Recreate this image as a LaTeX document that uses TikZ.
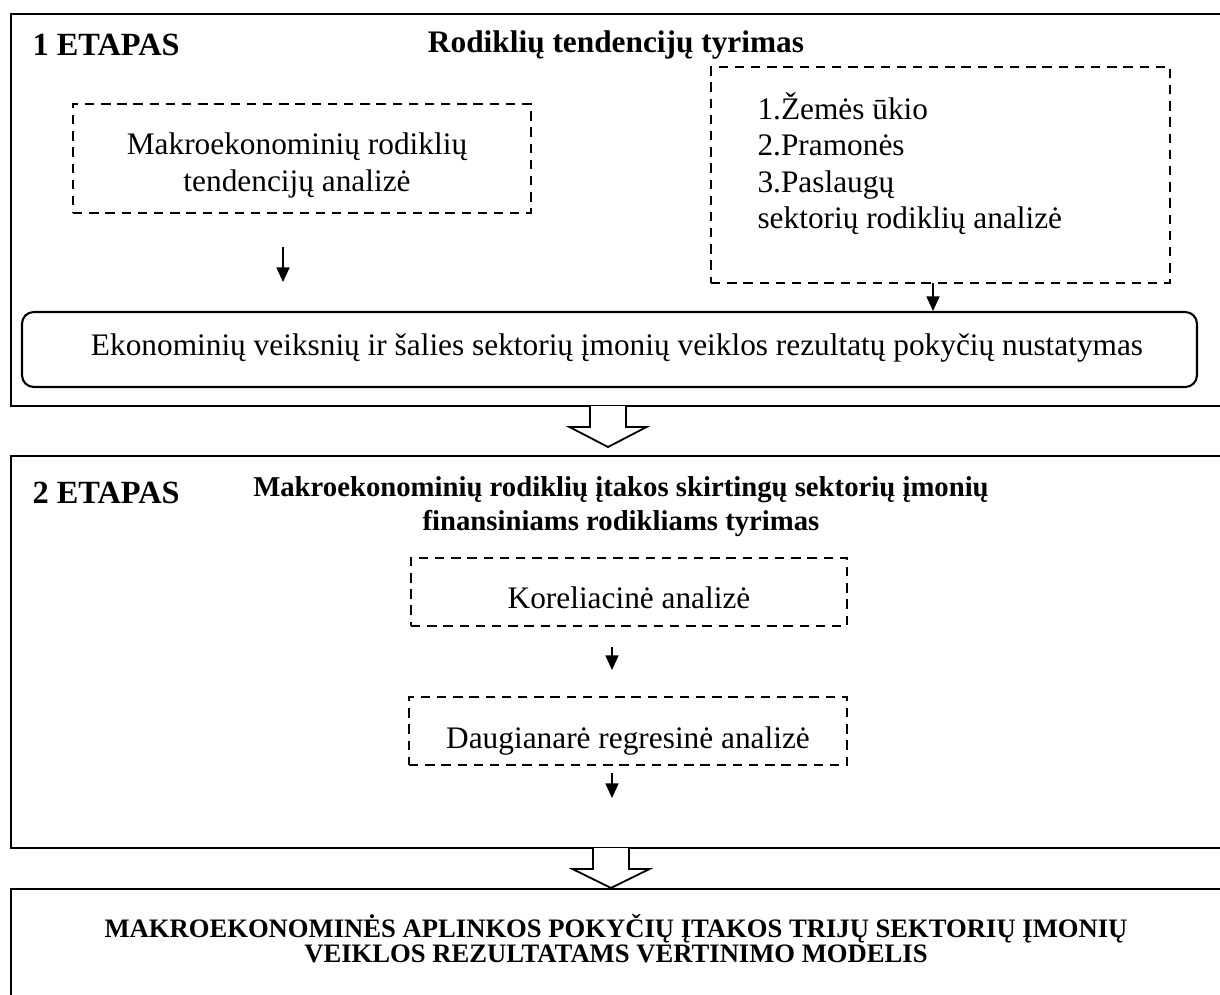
\documentclass[tikz,border=0pt]{standalone}
\usepackage{fontspec}
\setmainfont{Liberation Serif}
\usetikzlibrary{arrows.meta,fit,calc}

% outlined block arrow from a point on a frame's lower edge down to a tip
\newcommand\stagearrow[2]{%
  \draw[bigarrow] ($(#1)+(-18,0)$) -- ($(#1)+(-18,21)$) -- ($(#1)+(-38.5,21)$)
    -- (#2) -- ($(#1)+(38.5,21)$) -- ($(#1)+(18,21)$) -- ($(#1)+(18,0)$);}

\begin{document}
\begin{tikzpicture}[x=0.383pt,y=-0.383pt,
  every node/.style={font=\fontsize{12}{13.8}\selectfont, inner sep=0pt},
  stage/.style={draw, line width=0.8pt, inner sep=0pt},
  dashbox/.style={draw, line width=0.6pt, dash pattern=on 3.6pt off 2.6pt, inner sep=0pt},
  roundbox/.style={draw, line width=0.8pt, rounded corners=4.5pt, inner sep=0pt},
  flow/.style={line width=0.6pt, -{Triangle[length=5.6pt,width=5pt]}},
  stagelabel/.style={font=\bfseries\fontsize{12.4}{14}\selectfont},
  heading/.style={font=\bfseries\fontsize{12}{13.8}\selectfont},
  subheading/.style={font=\bfseries\fontsize{11}{12.6}\selectfont},
  modeltext/.style={font=\bfseries\fontsize{10.2}{11.7}\selectfont},
  bigarrow/.style={draw, line width=0.7pt, fill=white, line join=miter}
]
\useasboundingbox (0,0) rectangle (1220,994);
\clip (0,0) rectangle (1220,994);

% ---------- stage 1 ----------
\node[stage, fit={(11,14) (1240,406)}] (s1) {};
\node[stagelabel, anchor=base west] (s1lbl) at (32,55) {1 ETAPAS};
\node[heading, anchor=base] (s1title) at (616,52) {Rodiklių tendencijų tyrimas};

\node[dashbox, fit={(73,104) (531,213)}] (macro) {};
\node[anchor=base] (macroa) at (297,154) {Makroekonominių rodiklių};
\node[anchor=base] (macrob) at (297,191) {tendencijų analizė};

\node[dashbox, fit={(711,67) (1170,283)}] (sect) {};
\node[anchor=base west] (secta) at (757,119) {1.Žemės ūkio};
\node[anchor=base west] (sectb) at (757,155) {2.Pramonės};
\node[anchor=base west] (sectc) at (757,192) {3.Paslaugų};
\node[anchor=base west] (sectd) at (757,228) {sektorių rodiklių analizė};

\node[roundbox, fit={(22,312) (1197,387)}] (change) {};
\node[anchor=base] (changetxt) at (617,355)
  {Ekonominių veiksnių ir šalies sektorių įmonių veiklos rezultatų pokyčių nustatymas};

\coordinate (m1) at (283,247);
\coordinate (m2) at (283,282);
\draw[flow] (m1) -- (m2);
\coordinate (sb) at (933,283);
\draw[flow] (sb) -- (sb |- change.north);

% ---------- stage 2 ----------
\node[stage, fit={(11,456) (1240,848)}] (s2) {};
\coordinate (b1) at (608,406);
\coordinate (b1tip) at (608,447);
\stagearrow{b1}{b1tip}

\node[stagelabel, anchor=base west] (s2lbl) at (32,503) {2 ETAPAS};
\node[subheading, anchor=base] (s2titlea) at (621,496)
  {Makroekonominių rodiklių įtakos skirtingų sektorių įmonių};
\node[subheading, anchor=base] (s2titleb) at (621,530)
  {finansiniams rodikliams tyrimas};

\node[dashbox, fit={(411,558) (847,626)}] (corr) {};
\node[anchor=base] (corrtxt) at (629,608) {Koreliacinė analizė};
\node[dashbox, fit={(409,697) (847,765)}] (regr) {};
\node[anchor=base] (regrtxt) at (628,748) {Daugianarė regresinė analizė};

\coordinate (c1) at (612,647);
\coordinate (c2) at (612,670);
\draw[flow] (c1) -- (c2);
\coordinate (r1) at (612,773);
\coordinate (r2) at (612,798);
\draw[flow] (r1) -- (r2);

% ---------- model ----------
\node[stage, fit={(11,889) (1240,1010)}] (s3) {};
\coordinate (b2) at (611,848);
\stagearrow{b2}{b2 |- s3.north}

\node[modeltext, anchor=base] (modela) at (616,937)
  {MAKROEKONOMINĖS APLINKOS POKYČIŲ ĮTAKOS TRIJŲ SEKTORIŲ ĮMONIŲ};
\node[modeltext, anchor=base] (modelb) at (616,962)
  {VEIKLOS REZULTATAMS VERTINIMO MODELIS};
\end{tikzpicture}
\end{document}
